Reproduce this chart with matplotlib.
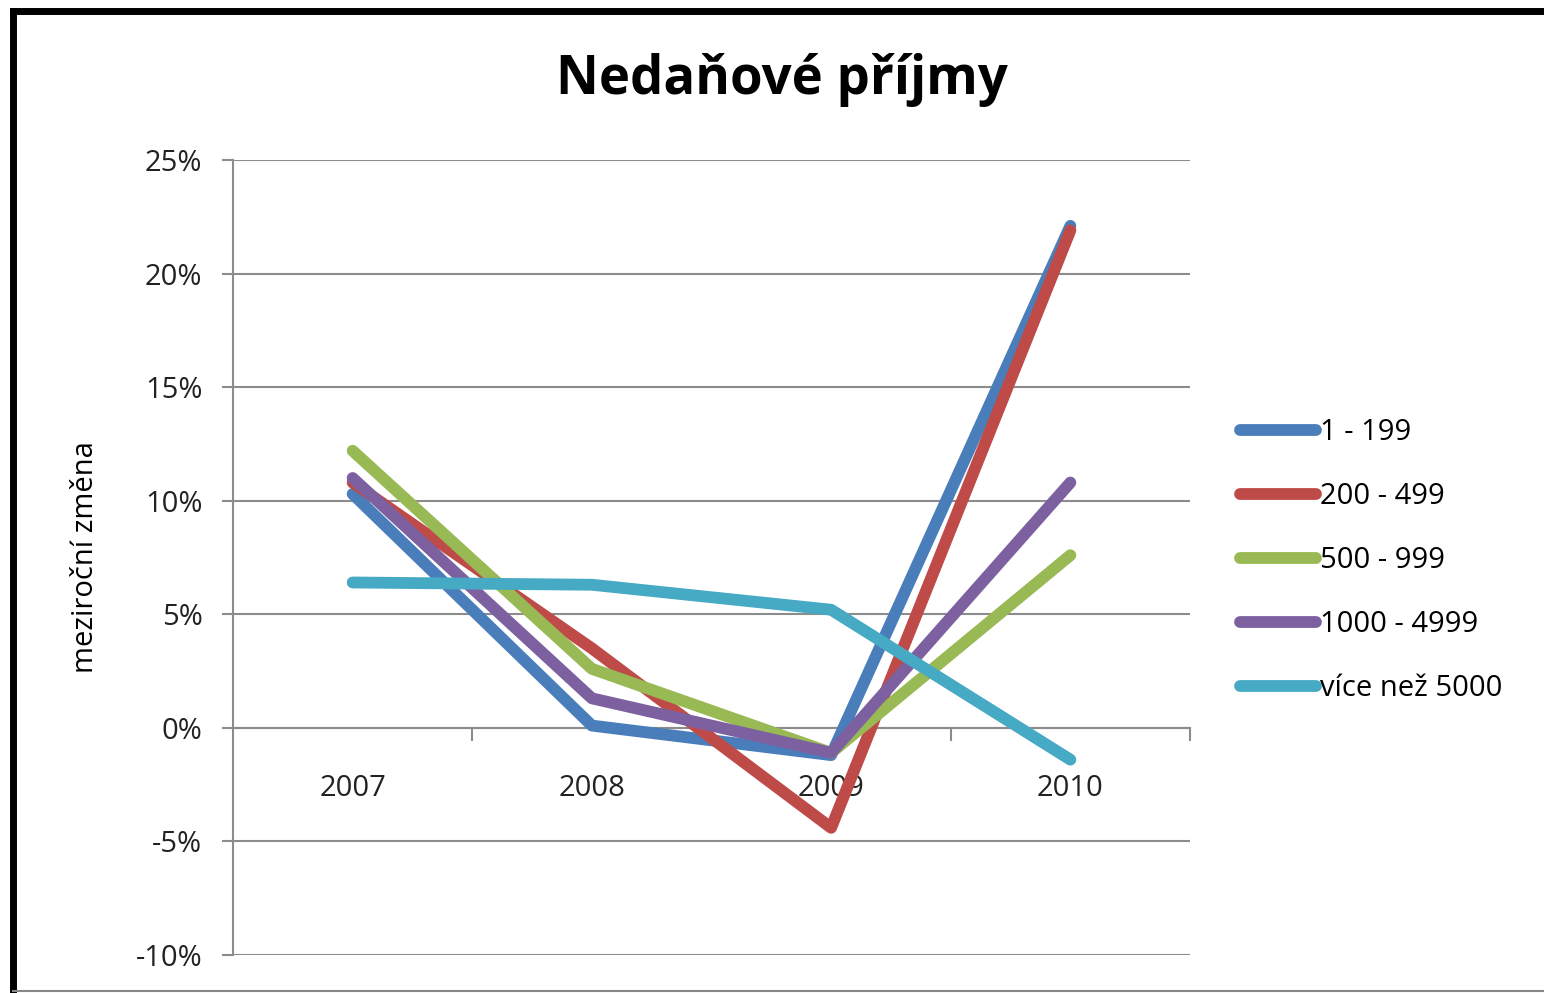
import matplotlib
matplotlib.use("Agg")
import matplotlib.pyplot as plt
from matplotlib.lines import Line2D
from matplotlib.ticker import FixedLocator, FuncFormatter

plt.rcParams["font.family"] = ["Open Sans", "DejaVu Sans"]

# data (yearly change, %)
years = ["2007", "2008", "2009", "2010"]
s_1_199 = [10.3, 0.1, -1.2, 22.1]
s_200_499 = [10.8, 3.5, -4.4, 21.9]
s_500_999 = [12.2, 2.6, -1.1, 7.6]
s_1000_4999 = [11.0, 1.3, -1.1, 10.8]
s_5000 = [6.4, 6.3, 5.2, -1.4]
labels = ["1 - 199", "200 - 499", "500 - 999", "1000 - 4999", "více než 5000"]
colors = ["#4A7EBB", "#BE4B48", "#98B954", "#7D60A0", "#46AAC5"]

fig = plt.figure(figsize=(15.44, 9.93), dpi=100)
W, H = 1544, 993

# outer frame like the Excel chart area
fig.add_artist(Line2D([13 / W, 13 / W], [0, 1 - 11 / H], transform=fig.transFigure,
                      color="black", lw=5, solid_capstyle="projecting"))
fig.add_artist(Line2D([13 / W, 1], [1 - 11 / H, 1 - 11 / H], transform=fig.transFigure,
                      color="black", lw=5, solid_capstyle="projecting"))
fig.add_artist(Line2D([13 / W, 1], [2 / H, 2 / H], transform=fig.transFigure,
                      color="#888888", lw=1.5))

ax = fig.add_axes([233 / W, 1 - 955 / H, (1190 - 233) / W, (955 - 160) / H])

x = list(range(len(years)))
for ys, lab, c in zip([s_1_199, s_200_499, s_500_999, s_1000_4999, s_5000], labels, colors):
    ax.plot(x, ys, color=c, lw=8.5, label=lab, solid_joinstyle="round",
            solid_capstyle="round", zorder=3)

ax.set_xlim(-0.5, 3.5)
ax.set_ylim(-10, 25)

grid_c = "#8C8C8C"
ax.set_yticks(range(-10, 30, 5))
ax.yaxis.set_major_formatter(FuncFormatter(lambda v, p: f"{int(v)}%"))
ax.grid(axis="y", color=grid_c, lw=1.5, zorder=1)
ax.tick_params(axis="y", length=8, width=1.5, color=grid_c, labelsize=21, pad=14,
               labelcolor="#222222")

for s in ["top", "right"]:
    ax.spines[s].set_visible(False)
ax.spines["left"].set_color(grid_c)
ax.spines["left"].set_linewidth(1.5)
ax.spines["bottom"].set_position(("data", 0))
ax.spines["bottom"].set_color(grid_c)
ax.spines["bottom"].set_linewidth(1.5)

ax.xaxis.set_major_locator(FixedLocator([0.5, 1.5, 2.5, 3.5]))
ax.xaxis.set_major_formatter(FuncFormatter(lambda v, p: ""))
ax.xaxis.set_minor_locator(FixedLocator(x))
ax.set_xticklabels(years, minor=True)
ax.tick_params(axis="x", which="major", length=9, width=1.5, color=grid_c, direction="out")
ax.tick_params(axis="x", which="minor", length=0, labelsize=21, pad=33, labelcolor="#222222")

ax.set_ylabel("meziroční změna", fontsize=21, labelpad=26, fontweight="medium")

fig.text(782 / W, 1 - 80 / H, "Nedaňové příjmy", ha="center", va="center",
         fontsize=38, fontweight="bold")

fig.legend(loc="center left", bbox_to_anchor=(1240 / W, 1 - 561 / H), frameon=False,
           fontsize=21, handlelength=2.6, handletextpad=0.15, labelspacing=1.2,
           borderpad=0, borderaxespad=0)

fig.savefig("out.png", dpi=100)
